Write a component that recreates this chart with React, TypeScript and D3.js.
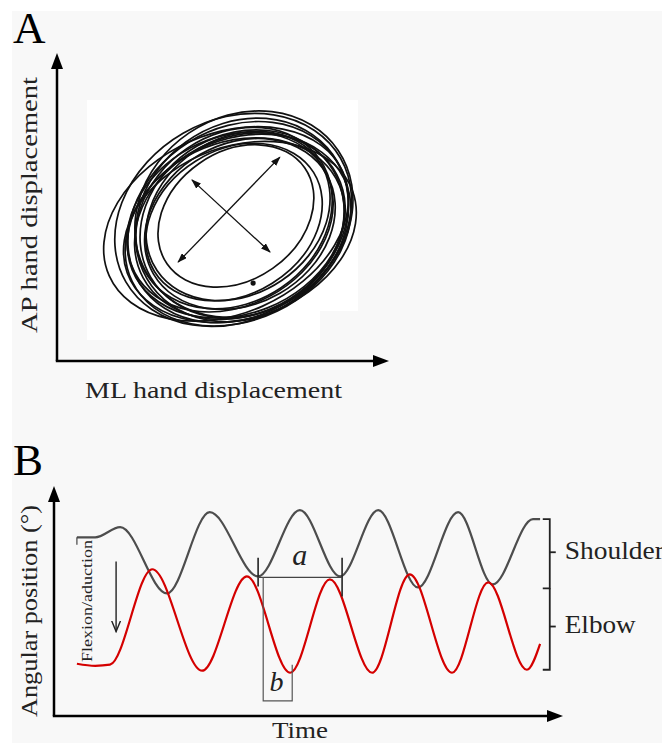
import React from "react";
import * as d3 from "d3";

// Panel A: hand path loops, ML / AP displacement (arbitrary units)
const loopCx = [55.0, 57.3, 58.9, 59.5, 57.6, 60.2, 58.2, 58.9, 58.2, 59.5, 57.6, 60.8, 58.9, 60.2, 56.3, 59.5];
const loopCy = [44.5, 45.8, 45.1, 43.8, 46.4, 45.8, 43.2, 47.1, 47.1, 44.5, 45.1, 47.7, 42.5, 44.5, 45.1, 41.9];
const loopRx = [41.6, 40.3, 37.7, 35.7, 33.8, 36.4, 36.4, 31.8, 27.3, 32.5, 30.5, 37.0, 38.3, 34.4, 35.1, 39.0];
const loopRy = [29.2, 32.5, 30.5, 28.6, 27.3, 31.2, 27.9, 25.3, 20.8, 26.0, 23.4, 31.8, 29.2, 29.2, 27.3, 27.9];
const loopTilt = [-24, -30, -32, -28, -34, -36, -22, -34, -35, -30, -32, -34, -26, -30, -28, -20];
const axisArrows = [
    [39.4, 32.1, 72.5, 66.2],
    [43.9, 58.8, 69.3, 35.4],
];
const endPoint = [63.8, 25.3];

// Panel B: joint angles over time (turning points)
const shoulderT = [4.5, 8.1, 13.0, 22.2, 30.6, 40.1, 48.3, 56.2, 63.7, 71.5, 79.4, 86.2, 94.1, 95.5];
const shoulderDeg = [77.7, 77.7, 82.1, 53.3, 88.6, 60.7, 89.5, 60.7, 89.5, 55.9, 88.6, 57.2, 85.6, 85.6];
const elbowT = [4.5, 8.1, 11.0, 19.3, 29.1, 37.9, 46.4, 54.2, 62.5, 69.9, 78.2, 85.3, 92.9, 95.5];
const elbowDeg = [22.7, 21.8, 22.3, 63.8, 19.7, 60.7, 18.8, 59.4, 18.8, 61.6, 18.8, 58.1, 20.1, 31.4];

const FONT = "'Liberation Serif', 'Times New Roman', serif";

export default function App() {
    const W = 662;
    const H = 743;

    const xA = d3.scaleLinear().domain([0, 108]).range([57, 389]);
    const yA = d3.scaleLinear().domain([0, 100]).range([361, 53]);
    const xB = d3.scaleLinear().domain([0, 100]).range([54, 563]);
    const yB = d3.scaleLinear().domain([0, 100]).range([716, 486]);

    const line = d3.line<[number, number]>()
        .x((d) => xB(d[0]))
        .y((d) => yB(d[1]))
        .curve(d3.curveMonotoneX);

    const shoulderPath = line(shoulderT.map((t, i) => [t, shoulderDeg[i]] as [number, number]));
    const elbowPath = line(elbowT.map((t, i) => [t, elbowDeg[i]] as [number, number]));

    // bracket positions (time / degrees)
    const brX = xB(97.4);
    const shTop = yB(85.6), mid = yB(55.5), elBot = yB(20.1);
    const shMid = yB(71.2), elMid = yB(38.9);

    return (
        <svg width={W} height={H} style={{ position: "absolute", left: 0, top: 0, display: "block" }} fontFamily={FONT}>
            <defs>
                <marker id="axisHead" viewBox="0 0 16 12" refX="11" refY="6" markerWidth="16" markerHeight="12"
                    markerUnits="userSpaceOnUse" orient="auto">
                    <path d="M0,0 L16,6 L0,12 Z" fill="#000" />
                </marker>
                <marker id="smallHead" viewBox="0 0 10 7" refX="9" refY="3.5" markerWidth="10" markerHeight="7"
                    markerUnits="userSpaceOnUse" orient="auto-start-reverse">
                    <path d="M0,0 L10,3.5 L0,7 Z" fill="#111" />
                </marker>
                <marker id="openHead" viewBox="0 0 12 10" refX="11" refY="5" markerWidth="12" markerHeight="10"
                    markerUnits="userSpaceOnUse" orient="auto">
                    <path d="M0,0.5 L11,5 L0,9.5" fill="none" stroke="#222" strokeWidth="1.4" />
                </marker>
            </defs>

            <rect width={W} height={H} fill="#fff" />
            <rect x={12} y={11} width={W - 12} height={H - 11} fill="#f8f8f8" />
            <path d="M87,100 H358 V311 H320 V340 H87 Z" fill="#fff" />

            {/* ---------- Panel A ---------- */}
            <text x={13} y={43} fontSize={45}>A</text>

            {loopCx.map((cx, i) => {
                const px = xA(cx);
                const py = yA(loopCy[i]);
                return (
                    <ellipse key={i} cx={px} cy={py}
                        rx={xA(loopRx[i]) - xA(0)} ry={yA(0) - yA(loopRy[i])}
                        transform={`rotate(${loopTilt[i]},${px},${py})`}
                        fill="none" stroke="#111" strokeWidth={1.7} />
                );
            })}
            <circle cx={xA(endPoint[0])} cy={yA(endPoint[1])} r={2.6} fill="#111" />

            {axisArrows.map((a, i) => (
                <line key={i} x1={xA(a[0])} y1={yA(a[1])} x2={xA(a[2])} y2={yA(a[3])}
                    stroke="#111" strokeWidth={1.3}
                    markerStart="url(#smallHead)" markerEnd="url(#smallHead)" />
            ))}

            <line x1={xA(0)} y1={yA(0)} x2={xA(0)} y2={yA(100) + 5} stroke="#000" strokeWidth={2.5} markerEnd="url(#axisHead)" />
            <line x1={xA(0) - 1.2} y1={yA(0)} x2={xA(108) - 5} y2={yA(0)} stroke="#000" strokeWidth={2.5} markerEnd="url(#axisHead)" />

            <text x={85} y={398} fontSize={24} textLength={257} lengthAdjust="spacingAndGlyphs" fill="#222">ML hand displacement</text>
            <text transform="translate(37,333) rotate(-90)" fontSize={24} textLength={256} lengthAdjust="spacingAndGlyphs" fill="#222">AP hand displacement</text>

            {/* ---------- Panel B ---------- */}
            <text x={13} y={475} fontSize={45}>B</text>

            <path d={shoulderPath ?? ""} fill="none" stroke="#4d4d4d" strokeWidth={2.2} />
            <path d={elbowPath ?? ""} fill="none" stroke="#d40000" strokeWidth={2.2} />

            {/* a : cycle period */}
            <g stroke="#222" strokeWidth={1.6}>
                <line x1={xB(40.1)} y1={yB(68.8)} x2={xB(40.1)} y2={yB(56.3)} />
                <line x1={xB(56.6)} y1={yB(68.8)} x2={xB(56.6)} y2={yB(52.0)} />
                <line x1={xB(40.1)} y1={yB(60.3)} x2={xB(56.6)} y2={yB(60.3)} strokeWidth={1.3} stroke="#444" />
            </g>
            <text x={xB(48.3)} y={yB(65.5)} fontSize={30} fontStyle="italic" textAnchor="middle" fill="#222">a</text>

            {/* b : phase lag */}
            <path d={`M${xB(41.1)},${yB(60.3)} V${yB(6.6)} H${xB(46.8)} V${yB(22.3)}`}
                fill="none" stroke="#555" strokeWidth={1.2} />
            <text x={xB(43.7)} y={yB(10.9)} fontSize={28} fontStyle="italic" textAnchor="middle" fill="#222">b</text>

            {/* flexion / adduction arrow */}
            <line x1={xB(12.2)} y1={yB(67.2)} x2={xB(12.2)} y2={yB(36.7)} stroke="#222" strokeWidth={1.4} markerEnd="url(#openHead)" />
            <text transform="translate(92,662) rotate(-90)" fontSize={14} textLength={122} lengthAdjust="spacingAndGlyphs" fill="#222">Flexion/aduction</text>
            <line x1={xB(4.5)} y1={yB(77.7)} x2={xB(4.5)} y2={yB(74.5)} stroke="#444" strokeWidth={1.2} />

            {/* brackets */}
            <g stroke="#222" strokeWidth={1.8} fill="none">
                <path d={`M${brX - 7},${shTop} H${brX} V${mid} H${brX - 7}`} />
                <path d={`M${brX},${mid} V${elBot} H${brX - 7}`} />
                <line x1={brX} y1={shMid} x2={brX + 6} y2={shMid} />
                <line x1={brX} y1={elMid} x2={brX + 6} y2={elMid} />
            </g>
            <text x={brX + 15} y={yB(68.1)} fontSize={25} textLength={99} lengthAdjust="spacingAndGlyphs" fill="#222">Shoulder</text>
            <text x={brX + 15} y={yB(36.2)} fontSize={25} textLength={71} lengthAdjust="spacingAndGlyphs" fill="#222">Elbow</text>

            <line x1={xB(0)} y1={yB(0)} x2={xB(0)} y2={yB(100) + 5} stroke="#000" strokeWidth={2.5} markerEnd="url(#axisHead)" />
            <line x1={xB(0) - 1.2} y1={yB(0)} x2={xB(100) - 5} y2={yB(0)} stroke="#000" strokeWidth={2.5} markerEnd="url(#axisHead)" />

            <text transform="translate(37,717) rotate(-90)" fontSize={24} textLength={212} lengthAdjust="spacingAndGlyphs" fill="#222">Angular position (°)</text>
            <text x={272} y={738} fontSize={23} textLength={56} lengthAdjust="spacingAndGlyphs" fill="#222">Time</text>
        </svg>
    );
}
